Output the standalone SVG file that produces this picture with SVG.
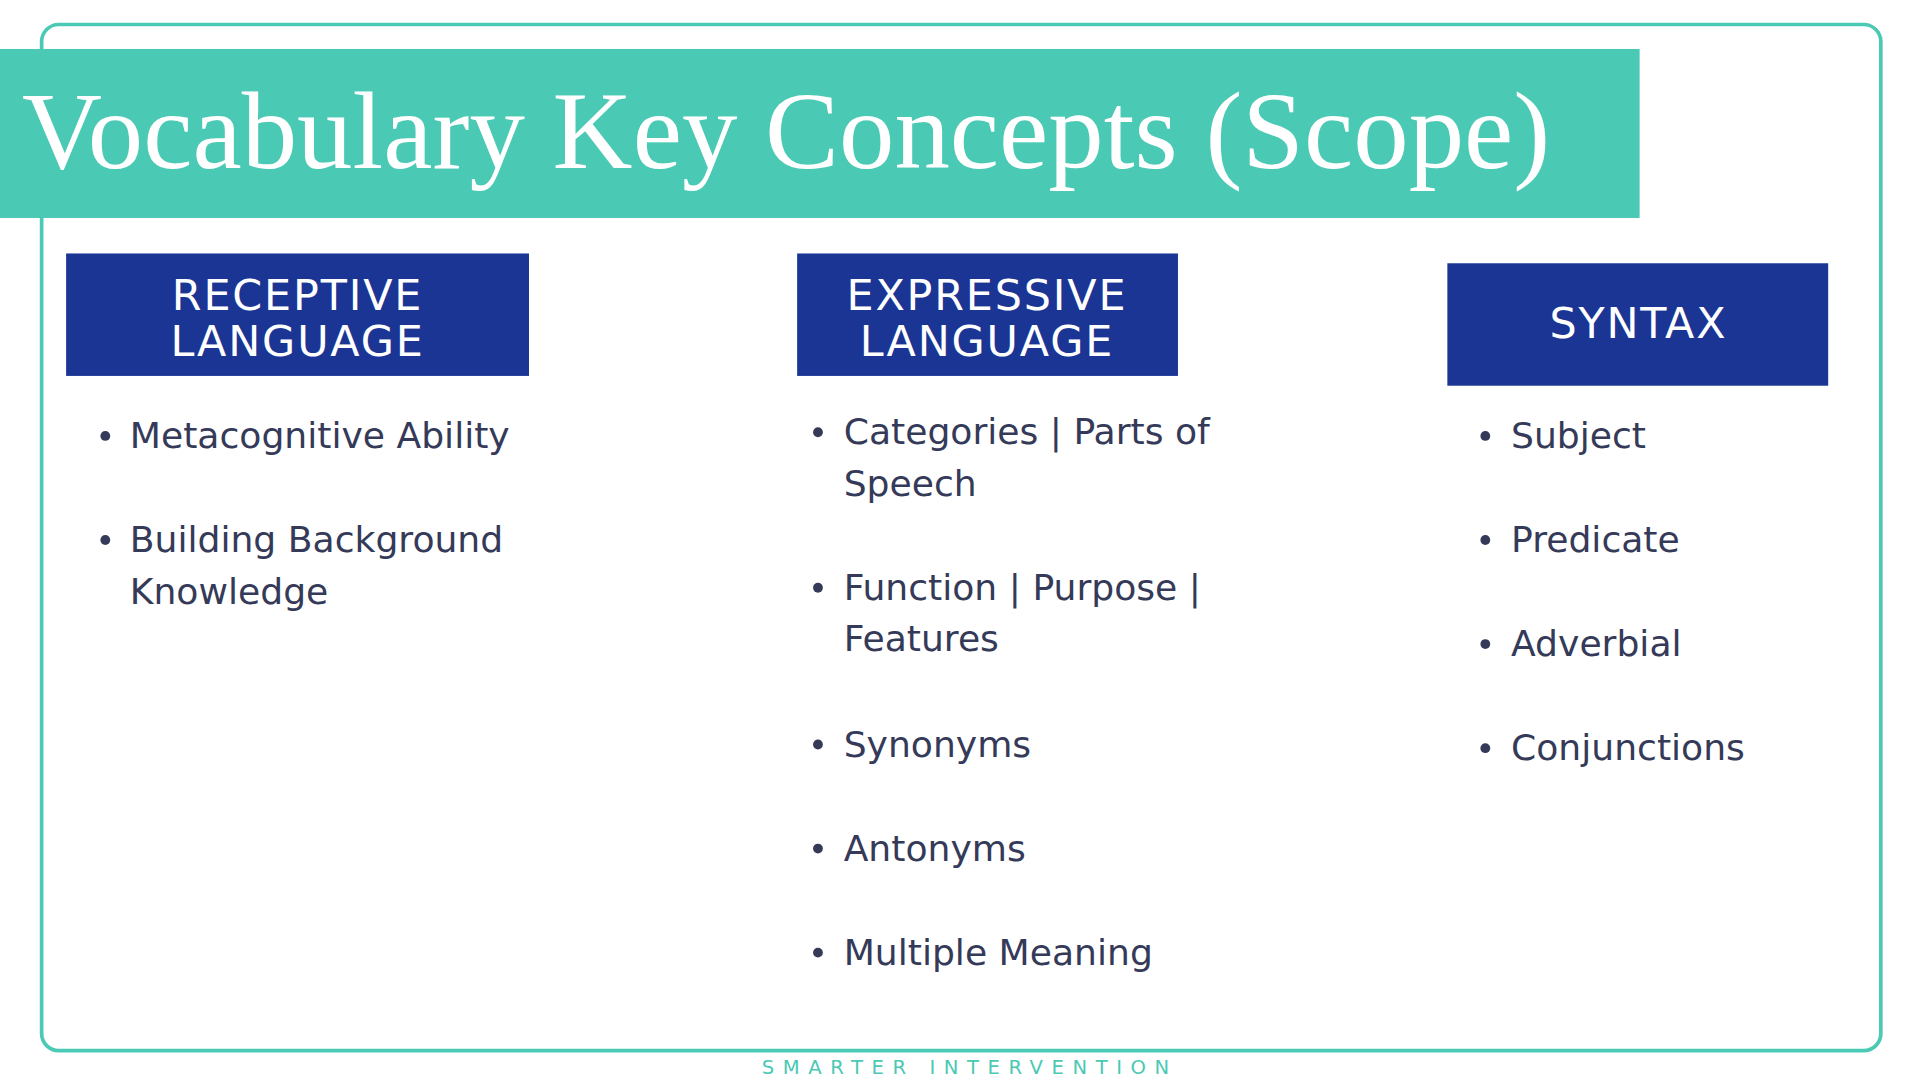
<svg xmlns="http://www.w3.org/2000/svg" width="1920" height="1080" viewBox="0 0 1920 1080">
<style>
.hd{fill:#1a3594}
.ht{fill:#fff;font-family:"DejaVu Sans","Liberation Sans",sans-serif;font-size:35px;letter-spacing:1.5px;text-anchor:middle}
.bt{fill:#343a58;font-family:"DejaVu Sans","Liberation Sans",sans-serif;font-size:29.5px}
.dot{fill:#343a58}
</style>
<rect width="1920" height="1080" fill="#fff"/>
<g transform="scale(1.2245)">
<rect x="34" y="20" width="1502" height="838" rx="14" fill="none" stroke="#4ac9b4" stroke-width="3"/>
<g id="title">
<rect x="0" y="40" width="1339" height="138" fill="#4ac9b4"/>
<text x="18" y="137" fill="#fff" font-family="'Liberation Serif','DejaVu Serif',serif" font-size="90" textLength="1248" lengthAdjust="spacingAndGlyphs">Vocabulary Key Concepts (Scope)</text>
</g>
<g id="receptive">
<rect class="hd" x="54" y="207" width="378" height="100"/>
<text class="ht" x="243" y="253">RECEPTIVE</text>
<text class="ht" x="243" y="291">LANGUAGE</text>
<circle class="dot" cx="86" cy="356" r="4"/><text class="bt" x="106" y="366">Metacognitive Ability</text>
<circle class="dot" cx="86" cy="441" r="4"/><text class="bt" x="106" y="451">Building Background</text>
<text class="bt" x="106" y="493">Knowledge</text>
</g>
<g id="expressive">
<rect class="hd" x="651" y="207" width="311" height="100"/>
<text class="ht" x="806" y="253">EXPRESSIVE</text>
<text class="ht" x="806" y="291">LANGUAGE</text>
<circle class="dot" cx="668" cy="353" r="4"/><text class="bt" x="689" y="363">Categories | Parts of</text>
<text class="bt" x="689" y="405">Speech</text>
<circle class="dot" cx="668" cy="480" r="4"/><text class="bt" x="689" y="490">Function | Purpose |</text>
<text class="bt" x="689" y="532">Features</text>
<circle class="dot" cx="668" cy="608" r="4"/><text class="bt" x="689" y="618">Synonyms</text>
<circle class="dot" cx="668" cy="693" r="4"/><text class="bt" x="689" y="703">Antonyms</text>
<circle class="dot" cx="668" cy="778" r="4"/><text class="bt" x="689" y="788">Multiple Meaning</text>
</g>
<g id="syntax">
<rect class="hd" x="1182" y="215" width="311" height="100"/>
<text class="ht" x="1338" y="276">SYNTAX</text>
<circle class="dot" cx="1213" cy="356" r="4"/><text class="bt" x="1234" y="366">Subject</text>
<circle class="dot" cx="1213" cy="441" r="4"/><text class="bt" x="1234" y="451">Predicate</text>
<circle class="dot" cx="1213" cy="526" r="4"/><text class="bt" x="1234" y="536">Adverbial</text>
<circle class="dot" cx="1213" cy="611" r="4"/><text class="bt" x="1234" y="621">Conjunctions</text>
</g>
<text x="792" y="877" fill="#4ac9b4" font-family="'DejaVu Sans','Liberation Sans',sans-serif" font-size="16" letter-spacing="7" text-anchor="middle">SMARTER INTERVENTION</text>
</g>
</svg>
